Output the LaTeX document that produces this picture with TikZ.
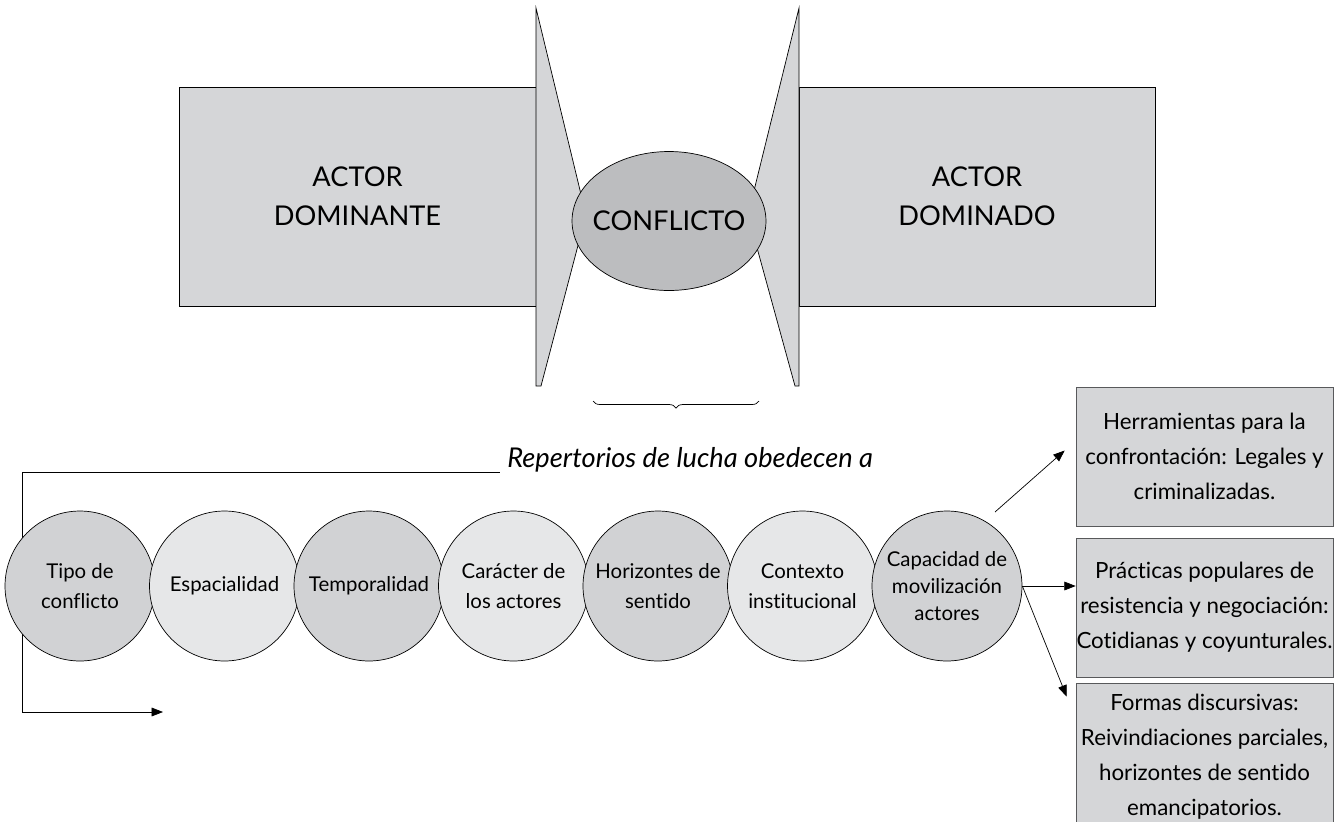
\documentclass[tikz,border=0pt]{standalone}
\usepackage{fontspec}
\setmainfont{Lato}[Ligatures=NoCommon]
\usepackage{xcolor}
\usepackage{tikz}
\usetikzlibrary{shapes.geometric,arrows.meta,decorations.pathreplacing}

\definecolor{grisactor}{HTML}{D5D6D8}
\definecolor{grisnucleo}{HTML}{BCBDBF}
\definecolor{grisoscuro}{HTML}{D1D2D4}
\definecolor{grisclaro}{HTML}{E6E7E8}
\definecolor{grisborde}{HTML}{58595B}

\tikzset{
	actor/.style={draw, fill=grisactor, minimum width=7.14cm, minimum height=4.38cm, align=center, font=\fontsize{15.5}{22}\selectfont},
	factor/.style={circle, draw, thin, minimum size=3cm, inner sep=0pt, align=center, font=\fontsize{11.6}{17}\selectfont},
	oscuro/.style={factor, fill=grisoscuro},
	claro/.style={factor, fill=grisclaro},
	forma/.style={draw=grisborde, fill=grisactor, minimum width=5.14cm, inner xsep=0pt, align=center, font=\fontsize{12.7}{20}\selectfont},
	flecha/.style={-{Triangle[length=6.5pt,width=5pt]}, thin}
}

\begin{document}
\begin{tikzpicture}[x=0.02cm,y=-0.02cm]
				\useasboundingbox (0,0) rectangle (1340,822);
				% actores y conflicto
				\node[actor] (dominante) at (357.5,196.5) {ACTOR\\DOMINANTE};
				\node[actor, minimum width=7.12cm] (dominado) at (977,196.5) {ACTOR\\DOMINADO};
				\filldraw[fill=grisactor, thin] (536,8) -- (586,215) -- (541,386) -- (536,386) -- cycle;
				\filldraw[fill=grisactor, thin] (799,8) -- (748,215) -- (795,386) -- (799,386) -- cycle;
				\node[ellipse, draw, thin, fill=grisnucleo, inner sep=0pt, minimum width=3.88cm, minimum height=2.78cm, font=\fontsize{15.5}{22}\selectfont] (conflicto) at (669,221) {\makebox[0pt]{CONFLICTO}};
				\draw[decorate, decoration={brace, mirror, amplitude=4pt}] (593,401) -- (759,401);
				% repertorios
				\node[anchor=west, inner sep=0pt, font=\fontsize{15.5}{18}\selectfont\itshape] (repertorios) at (507,460) {Repertorios de lucha obedecen a};
				\coordinate (esquina) at (22,472);
				\coordinate (bajo) at (22,712);
				\coordinate (punta) at (163,712);
				\draw[flecha] ([xshift=-4]repertorios.west |- esquina) -- (esquina) -- (bajo) -- (punta);
				\node[oscuro] (tipo) at (80,586) {Tipo de\\conflicto};
				\node[claro] (espacio) at (224.5,586) {Espacialidad};
				\node[oscuro] (tiempo) at (369,586) {Temporalidad};
				\node[claro] (caracter) at (513.5,586) {Carácter de\\los actores};
				\node[oscuro] (horizontes) at (658,586) {Horizontes de\\sentido};
				\node[claro] (contexto) at (802.5,586) {Contexto\\institucional};
				\node[oscuro, font=\fontsize{11.6}{15.5}\selectfont] (capacidad) at (947,586) {Capacidad de\\movilización\\actores};
				% formas de lucha
				\node[forma, minimum height=2.78cm] (herramientas) at (1204.5,456.5) {Herramientas para la\\confrontación: Legales y\\criminalizadas.};
				\node[forma, minimum height=2.78cm] (practicas) at (1204.5,607.5) {Prácticas populares de\\resistencia y negociación:\\Cotidianas y coyunturales.};
				\node[forma, minimum height=2.94cm] (discursos) at (1204.5,756.5) {Formas discursivas:\\Reivindiaciones parciales,\\horizontes de sentido\\emancipatorios.};
				\coordinate (salida) at (995,512);
				\draw[flecha] (salida) -- ([shift={(-11,-6)}]herramientas.west);
				\draw[flecha] (capacidad.east) -- (capacidad.east -| practicas.west);
				\draw[flecha] (capacidad.east) -- ([shift={(-9,14)}]discursos.north west);
			\end{tikzpicture}
\end{document}
